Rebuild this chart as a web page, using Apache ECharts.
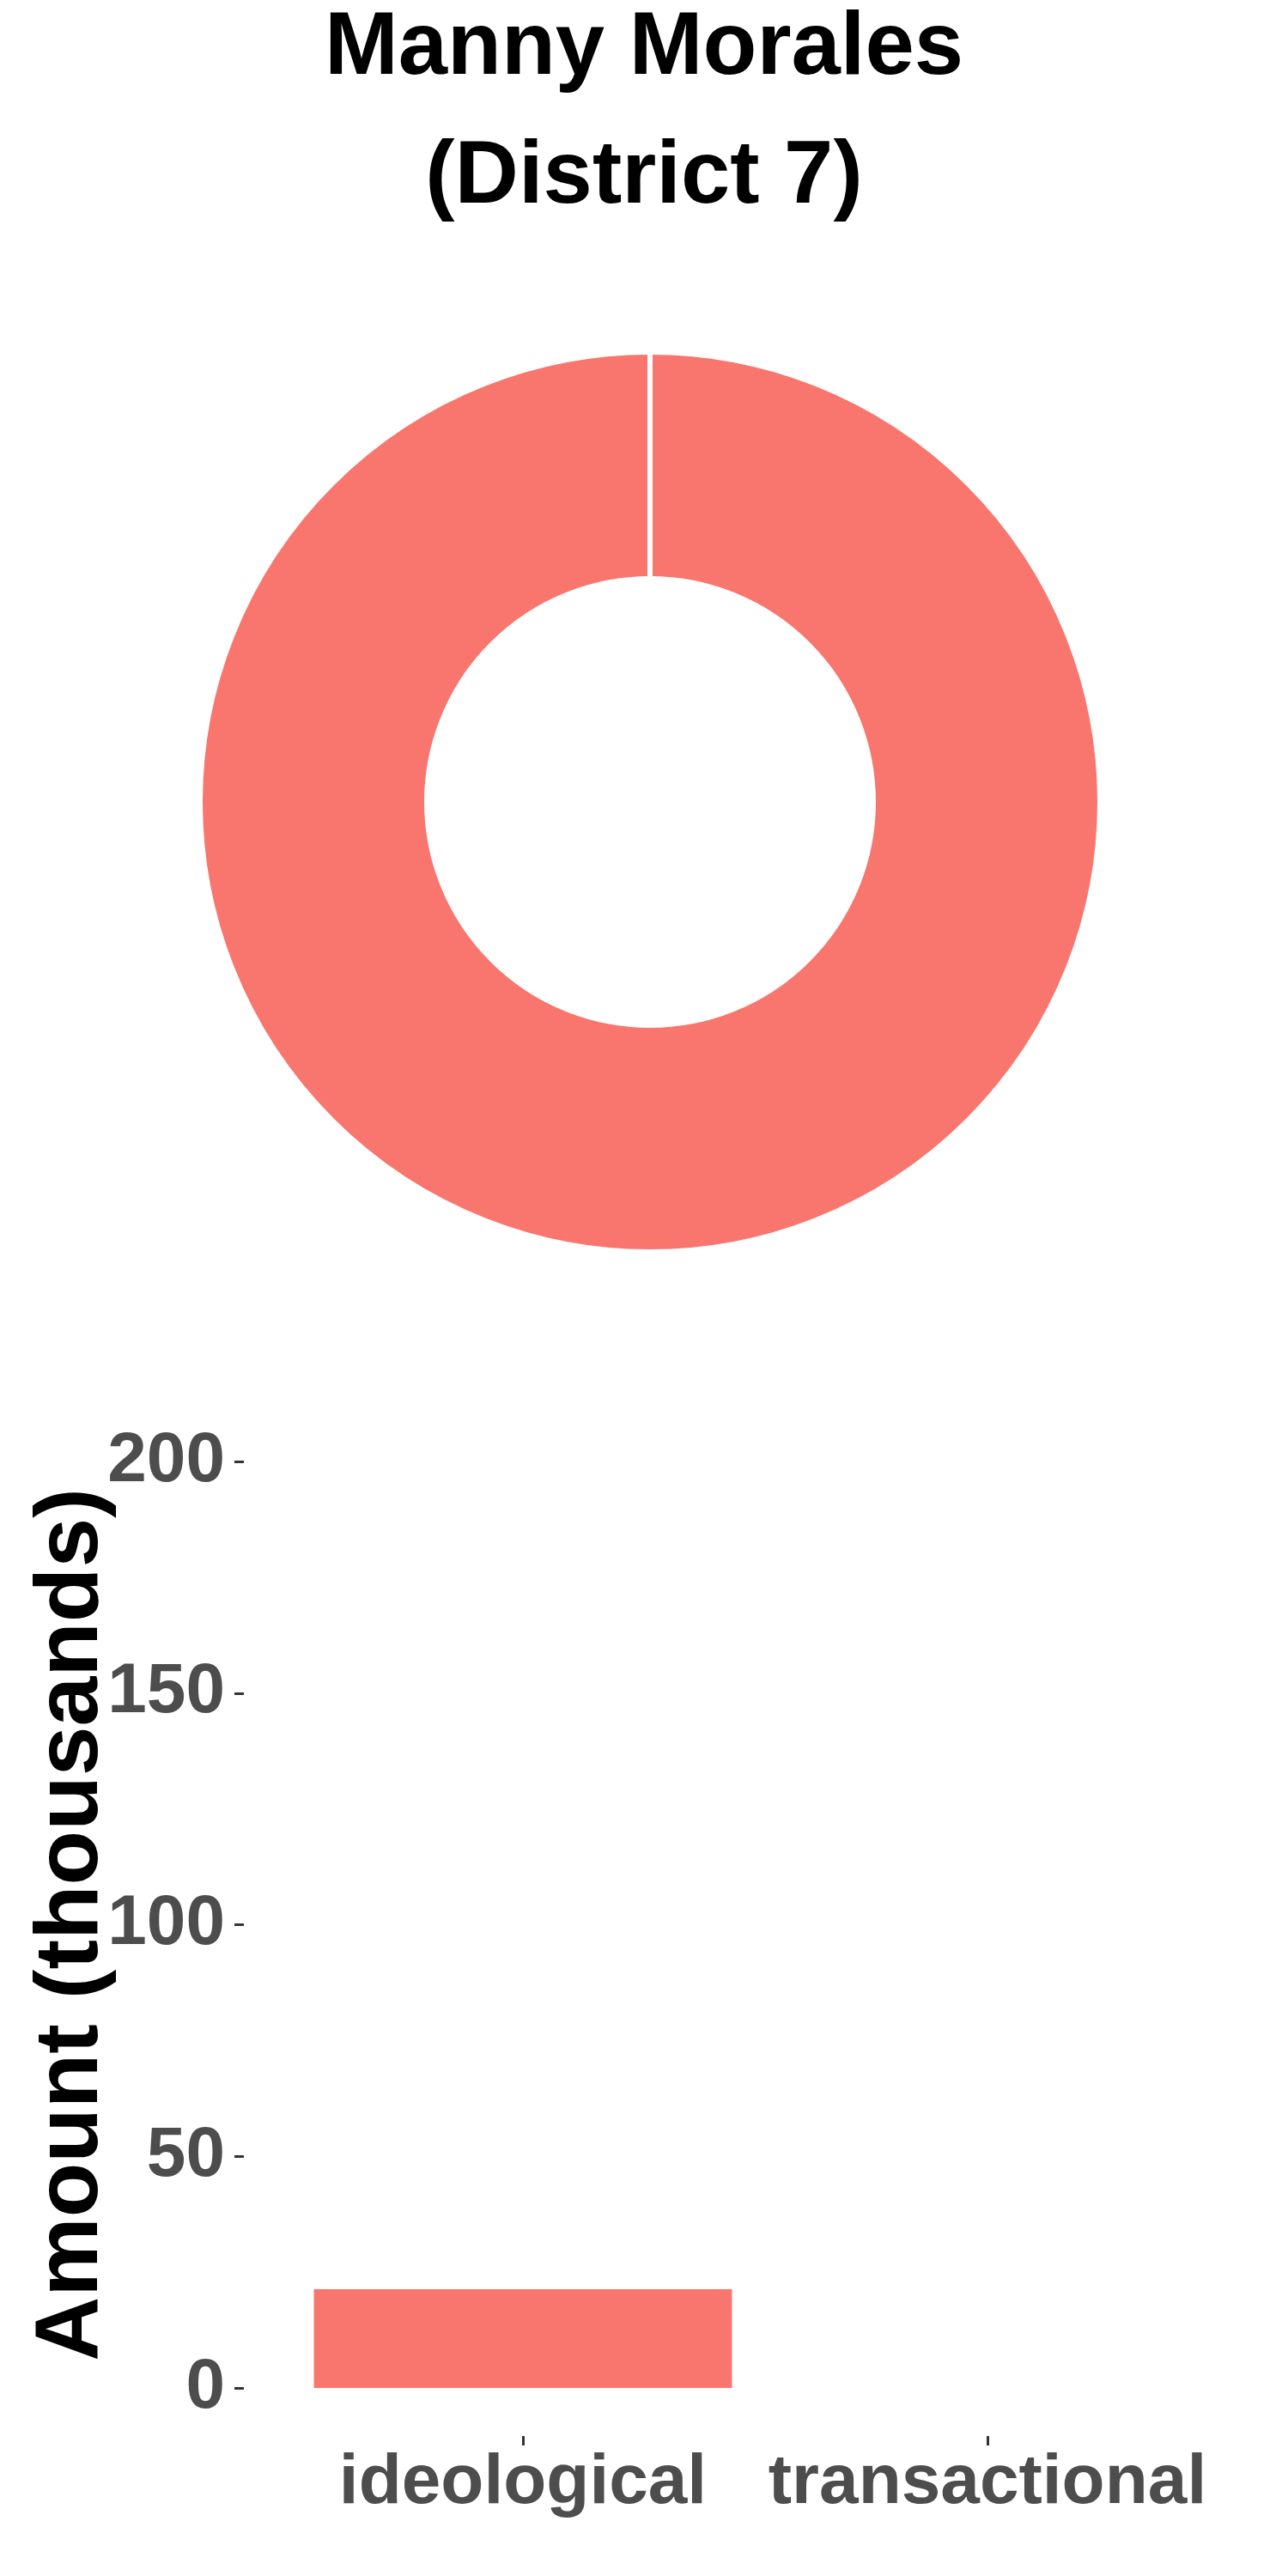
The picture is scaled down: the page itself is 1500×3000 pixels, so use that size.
<!DOCTYPE html>
<html>
<head>
<meta charset="utf-8">
<script src="https://cdn.jsdelivr.net/npm/echarts@6/dist/echarts.min.js"></script>
<style>
  html, body { margin: 0; padding: 0; background: #fff; }
  #chart { width: 1500px; height: 3000px; }
</style>
</head>
<body>
<div id="chart"></div>
<script>
const titleLine1 = 'Manny Morales';
const titleLine2 = '(District 7)';
const categories = ['ideological', 'transactional'];
const amounts = [21.3, 0];          // thousands
const yAxisName = 'Amount (thousands)';
const yMin = 0, yMax = 200, yStep = 50;

const fill = '#F8766D';
const font = '"Liberation Sans", Arial, Helvetica, sans-serif';

const chart = echarts.init(document.getElementById('chart'), null, { renderer: 'canvas' });

chart.setOption({
  backgroundColor: '#ffffff',
  animation: false,
  title: [
    {
      text: titleLine1, left: 'center', top: 6, padding: 0,
      textStyle: { fontFamily: font, fontWeight: 'bold', fontSize: 103, lineHeight: 103, color: '#000' }
    },
    {
      text: titleLine2, left: 'center', top: 156, padding: 0,
      textStyle: { fontFamily: font, fontWeight: 'bold', fontSize: 103, lineHeight: 103, color: '#000' }
    }
  ],
  grid: { left: 338.5, right: 79.5, top: 1702, bottom: 219, containLabel: false },
  xAxis: {
    type: 'category',
    data: categories,
    offset: 56,
    axisLine: { show: false, onZero: false },
    axisTick: { show: true, interval: 0, alignWithLabel: true, length: 11, lineStyle: { color: '#333333', width: 3 } },
    axisLabel: { interval: 0, hideOverlap: false, margin: 14, fontFamily: font, fontWeight: 'bold', fontSize: 82, color: '#4D4D4D' },
    splitLine: { show: false }
  },
  yAxis: {
    type: 'value',
    min: yMin, max: yMax, interval: yStep,
    offset: 54.5,
    name: yAxisName,
    nameLocation: 'middle',
    nameGap: 148,
    nameMoveOverlap: false,
    nameTextStyle: { fontFamily: font, fontWeight: 'bold', fontSize: 104, color: '#000' },
    axisLine: { show: false, onZero: false },
    axisTick: { show: true, length: 11, lineStyle: { color: '#333333', width: 3 } },
    axisLabel: { margin: 22, fontFamily: font, fontWeight: 'bold', fontSize: 82, color: '#4D4D4D' },
    splitLine: { show: false }
  },
  series: [
    {
      type: 'pie',
      center: [757, 934],
      radius: [260, 524],
      startAngle: 90,
      clockwise: true,
      label: { show: false },
      labelLine: { show: false },
      emphasis: { disabled: true },
      itemStyle: { color: fill, borderColor: '#ffffff', borderWidth: 6 },
      data: categories.map((c, i) => ({ name: c, value: amounts[i] }))
    },
    {
      type: 'bar',
      data: amounts,
      barWidth: '90%',
      itemStyle: { color: fill },
      emphasis: { disabled: true }
    }
  ]
});
</script>
</body>
</html>
